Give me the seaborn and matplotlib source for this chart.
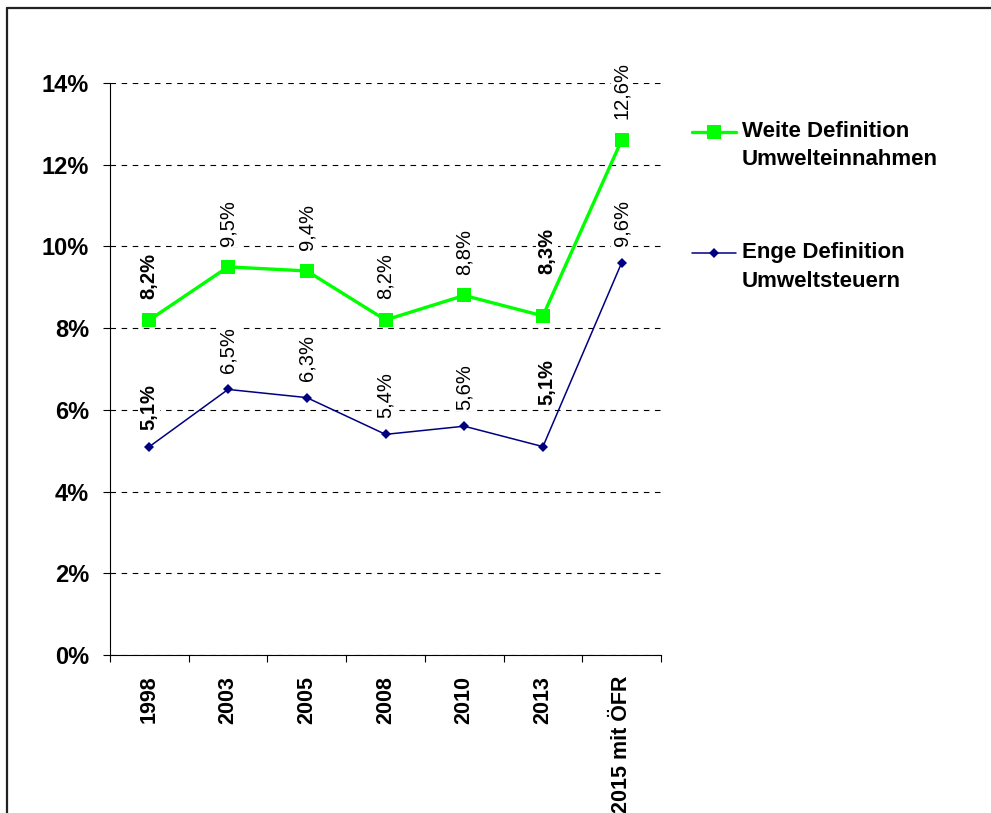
import pandas as pd
import matplotlib.pyplot as plt
import seaborn as sns
from matplotlib.lines import Line2D
from matplotlib.ticker import FuncFormatter

years = ['1998', '2003', '2005', '2008', '2010', '2013', '2015 mit ÖFR']
weit = [8.2, 9.5, 9.4, 8.2, 8.8, 8.3, 12.6]
eng = [5.1, 6.5, 6.3, 5.4, 5.6, 5.1, 9.6]
label_weit = 'Weite Definition\nUmwelteinnahmen'
label_eng = 'Enge Definition\nUmweltsteuern'
bold_idx = [0, 5]

df = pd.DataFrame({
    'Jahr': years * 2,
    'Wert': weit + eng,
    'Reihe': [label_weit] * len(years) + [label_eng] * len(years),
})

sns.set_theme(style='white')
plt.rcParams['font.family'] = ['Liberation Sans', 'DejaVu Sans']
plt.rcParams.update({'text.color': 'black', 'axes.labelcolor': 'black',
                     'xtick.color': 'black', 'ytick.color': 'black'})

fig = plt.figure(figsize=(9.91, 8.13), dpi=100)
ax = fig.add_axes([110 / 991, 158 / 813, 551 / 991, 572 / 813])

green = '#00FF00'
navy = '#000080'

sns.lineplot(data=df[df['Reihe'] == label_weit], x='Jahr', y='Wert', ax=ax,
             color=green, lw=2.4, marker='s', markersize=10, markeredgewidth=0,
             sort=False, legend=False, zorder=3)
sns.lineplot(data=df[df['Reihe'] == label_eng], x='Jahr', y='Wert', ax=ax,
             color=navy, lw=1.1, marker='D', markersize=5, markeredgewidth=0,
             sort=False, legend=False, zorder=3)

# data labels
for series, base in ((weit, 15), (eng, 12)):
    for i, v in enumerate(series):
        bold = i in bold_idx
        dy = 30 if i == 5 else base
        dx = 3 if i == 5 else 0
        ax.annotate(f'{v:.1f}%'.replace('.', ','), (i, v), xytext=(dx, dy),
                    textcoords='offset points', rotation=90, ha='center', va='bottom',
                    fontsize=14.5, fontweight='bold' if bold else 'normal', color='black',
                    bbox=dict(facecolor='white', edgecolor='none', pad=1),
                    zorder=4, annotation_clip=False)

ax.set_ylim(0, 14)
ax.set_xlim(-0.5, 6.5)
ax.set_yticks(range(0, 15, 2))
ax.yaxis.set_major_formatter(FuncFormatter(lambda v, p: f'{v:.0f}%'))
ax.yaxis.grid(True, color='black', linestyle=(0, (5, 5)), lw=0.8)
ax.set_axisbelow(True)

ax.set_xticks(range(len(years)))
ax.set_xticklabels(years, rotation=90, fontweight='bold', fontsize=15.5, va='top')
ax.set_xticks([i - 0.5 for i in range(len(years) + 1)], minor=True)
ax.tick_params(axis='x', which='major', bottom=True, length=0, pad=15)
ax.tick_params(axis='x', which='minor', bottom=True, length=5, width=0.8, color='black',
               direction='out')
ax.tick_params(axis='y', left=True, length=5, width=0.8, color='black', direction='out',
               labelsize=17, pad=10)
for t in ax.get_yticklabels():
    t.set_fontweight('bold')
ax.set_xlabel('')
ax.set_ylabel('')

for s in ('top', 'right'):
    ax.spines[s].set_visible(False)
for s in ('left', 'bottom'):
    ax.spines[s].set_color('black')
    ax.spines[s].set_linewidth(0.8)

handles = [
    Line2D([], [], color=green, lw=2.4, marker='s', markersize=10, markeredgewidth=0),
    Line2D([], [], color=navy, lw=1.1, marker='D', markersize=5, markeredgewidth=0),
]
leg = fig.legend(handles, [label_weit, label_eng], loc='upper left',
                 bbox_to_anchor=(692 / 991, 1 - 121 / 813), bbox_transform=fig.transFigure,
                 frameon=False, borderpad=0, borderaxespad=0, handlelength=2.0,
                 handletextpad=0.25, labelspacing=3.25,
                 prop={'weight': 'bold', 'size': 16})
for t in leg.get_texts():
    t.set_linespacing(1.45)
# align the handle with the first text line, as in the original
for h in leg.legend_handles:
    h.set_ydata([y + 10 for y in h.get_ydata()])

# chart border (top and left visible)
fig.add_artist(Line2D([7 / 991, 7 / 991], [0, 1 - 8 / 813], transform=fig.transFigure,
                      color='#222222', lw=1.6))
fig.add_artist(Line2D([7 / 991, 1], [1 - 8 / 813, 1 - 8 / 813], transform=fig.transFigure,
                      color='#222222', lw=1.6))

fig.savefig('out.png', dpi=100)
